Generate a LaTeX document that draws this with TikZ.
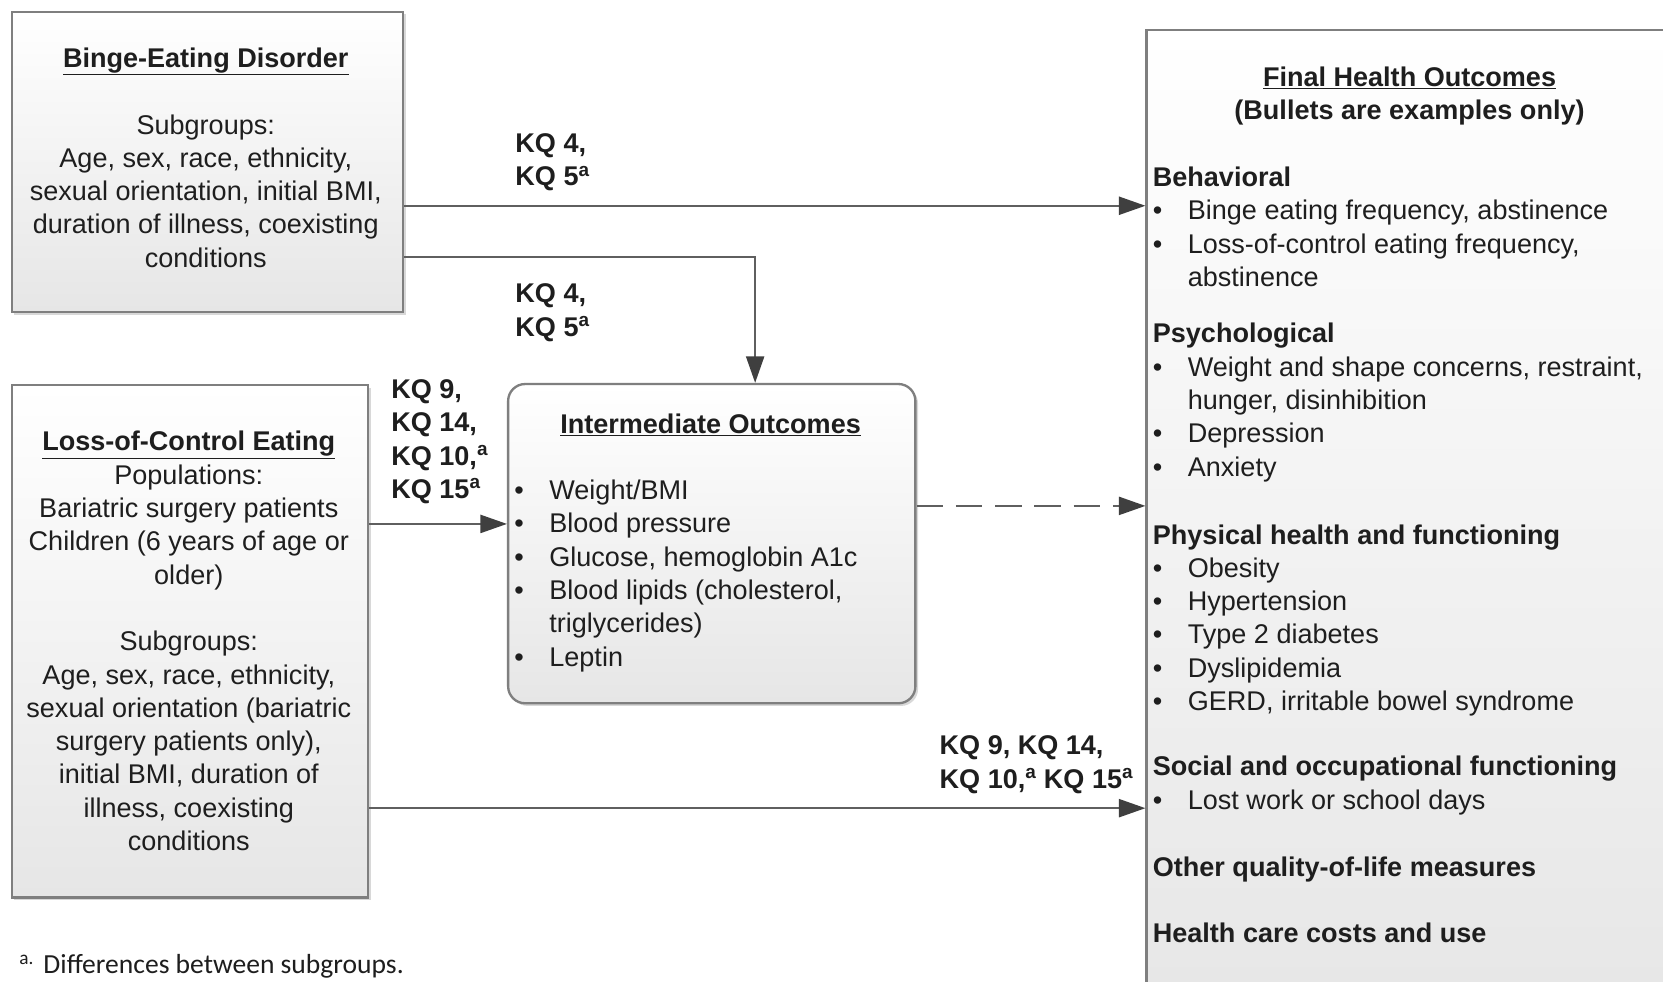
\documentclass[tikz,border=0pt]{standalone}
\usepackage{fontspec}
\setmainfont{Liberation Sans}
\newfontfamily\calfont{Carlito}
\usetikzlibrary{arrows.meta,shadows}

\definecolor{txt}{HTML}{1E1E1E}
\definecolor{bordergray}{HTML}{7F7F7F}
\definecolor{linegray}{HTML}{5F5F5F}
\definecolor{headgray}{HTML}{3F3F3F}
\definecolor{boxbottom}{HTML}{E6E6E6}

\newcommand{\fhbul}{\makebox[33pt][l]{\textbullet}}
\newcommand{\fhind}{\hspace*{33pt}}

\tikzset{
  boxbase/.style={draw=bordergray, line width=2.2pt, top color=white, bottom color=boxbottom},
  box/.style={boxbase, drop shadow={shadow xshift=2.5pt, shadow yshift=-2.5pt, fill=black!30, opacity=0.5}},
  txtnode/.style={inner sep=0pt, outer sep=0pt, text=txt, font=\fontsize{25.5pt}{31.4pt}\selectfont},
  kqlabel/.style={txtnode, align=left, anchor=base west, font=\fontsize{25.5pt}{31.4pt}\selectfont\bfseries},
  conn/.style={draw=linegray, line width=2pt, -{Triangle[length=25pt,width=17pt,color=headgray]}},
}

\begin{document}
\begin{tikzpicture}[x=1pt,y=-1pt]
\fill[white] (0,0) rectangle (1568,925);
\useasboundingbox (0,0) rectangle (1568,925);

% Final health outcomes box (cut off at right and bottom)
\begin{scope}
\clip (0,0) rectangle (1568,925);
\node[boxbase, minimum width=560pt, minimum height=940pt, anchor=north west, inner sep=0pt] (fho) at (1080,27) {};
\end{scope}

% Boxes
\node[box, minimum width=369pt, minimum height=283pt, anchor=north west, inner sep=0pt] (bed) at (10,10) {};
\node[box, minimum width=336pt, minimum height=483pt, anchor=north west, inner sep=0pt] (loc) at (10,362) {};
\node[box, rounded corners=16pt, minimum width=384pt, minimum height=301pt, anchor=north west, inner sep=0pt] (io) at (478,361) {};

% Box texts (anchor base = baseline of the last line)
\node[txtnode, align=center, anchor=base] (bedtxt) at (194,252)
  {\textbf{\underline{Binge-Eating Disorder}}\\[31.4pt]
   Subgroups:\\ Age, sex, race, ethnicity,\\ sexual orientation, initial BMI,\\
   duration of illness, coexisting\\ conditions};

\node[txtnode, align=center, anchor=base] (loctxt) at (178,802)
  {\textbf{\underline{Loss-of-Control Eating}}\\ Populations:\\ Bariatric surgery patients\\
   Children (6 years of age or\\ older)\\[31.4pt] Subgroups:\\ Age, sex, race, ethnicity,\\
   sexual orientation (bariatric\\ surgery patients only),\\ initial BMI, duration of\\
   illness, coexisting\\ conditions};

\node[txtnode, anchor=base] (iotitle) at (670,409) {\textbf{\underline{Intermediate Outcomes}}};
\node[txtnode, align=left, anchor=base west] (iolist) at (485,628)
  {\fhbul Weight/BMI\\ \fhbul Blood pressure\\ \fhbul Glucose, hemoglobin A1c\\
   \fhbul Blood lipids (cholesterol,\\ \fhind triglycerides)\\ \fhbul Leptin};

\node[txtnode, align=center, anchor=base] (fhotitle) at (1329,113)
  {\textbf{\underline{Final Health Outcomes}}\\ \textbf{(Bullets are examples only)}};
\node[txtnode, align=left, anchor=base west] (behav) at (1087,270)
  {\textbf{Behavioral}\\ \fhbul Binge eating frequency, abstinence\\
   \fhbul Loss-of-control eating frequency,\\ \fhind abstinence};
\node[txtnode, align=left, anchor=base west] (psych) at (1087,449)
  {\textbf{Psychological}\\ \fhbul Weight and shape concerns, restraint,\\
   \fhind hunger, disinhibition\\ \fhbul Depression\\ \fhbul Anxiety};
\node[txtnode, align=left, anchor=base west] (phys) at (1087,670)
  {\textbf{Physical health and functioning}\\ \fhbul Obesity\\ \fhbul Hypertension\\
   \fhbul Type 2 diabetes\\ \fhbul Dyslipidemia\\ \fhbul GERD, irritable bowel syndrome};
\node[txtnode, align=left, anchor=base west] (social) at (1087,763)
  {\textbf{Social and occupational functioning}\\ \fhbul Lost work or school days};
\node[txtnode, anchor=base west] (other) at (1087,826) {\textbf{Other quality-of-life measures}};
\node[txtnode, anchor=base west] (costs) at (1087,889) {\textbf{Health care costs and use}};

% Connector levels
\coordinate (y1) at (0,194);
\coordinate (y2) at (712,242);
\coordinate (y3) at (0,494);
\coordinate (y4) at (0,477);
\coordinate (y5) at (0,762);

% Connectors
\draw[conn] (bed.east |- y1) -- (fho.west |- y1);
\draw[conn] (bed.east |- y2) -| (io.north -| y2);
\draw[conn] (loc.east |- y3) -- (io.west |- y3);
\draw[conn, dash pattern=on 25pt off 12pt] (io.east |- y4) -- (fho.west |- y4);
\draw[conn] (loc.east |- y5) -- (fho.west |- y5);

% Labels (anchor base = baseline of last line)
\node[kqlabel] (kq1) at (486,175) {KQ 4,\\ KQ 5\textsuperscript{a}};
\node[kqlabel] (kq2) at (486,317) {KQ 4,\\ KQ 5\textsuperscript{a}};
\node[kqlabel] (kq3) at (369,470) {KQ 9,\\ KQ 14,\\ KQ 10,\textsuperscript{a}\\ KQ 15\textsuperscript{a}};
\node[kqlabel] (kq4) at (886,743) {KQ 9, KQ 14,\\ KQ 10,\textsuperscript{a} KQ 15\textsuperscript{a}};

% Footnote
\node[inner sep=0pt, anchor=base west, text=txt, font=\calfont\fontsize{26pt}{30pt}\selectfont] (foot) at (18,918)
  {\textsuperscript{a.}\hspace{9pt}Differences between subgroups.};
\end{tikzpicture}
\end{document}
